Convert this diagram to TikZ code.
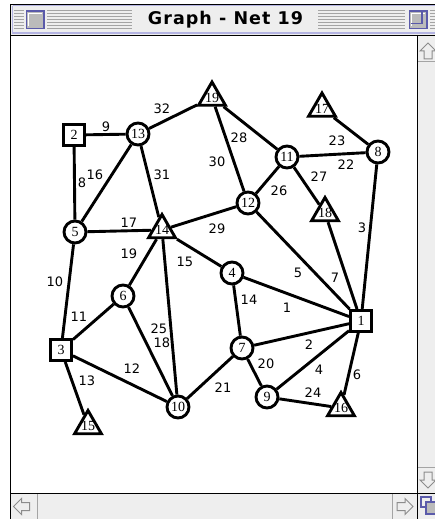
\documentclass[tikz,border=0pt]{standalone}
\usepackage{fontspec}
\usetikzlibrary{shapes.geometric}
\newfontfamily\nodefont{Liberation Serif}
\newfontfamily\labelfont{DejaVu Sans}
\newfontfamily\titlefont[LetterSpace=6]{DejaVu Sans}
\definecolor{barbg}{HTML}{EEEEEE}
\definecolor{stripe}{HTML}{A4A4A4}
\definecolor{lavender}{HTML}{B4B4E2}
\definecolor{boxblue}{HTML}{5A5AAA}
\definecolor{boxfill}{HTML}{BBBBBB}
\definecolor{arrowgray}{HTML}{8C8C8C}

\begin{document}
\begin{tikzpicture}[x=1pt, y=-1pt,
    vtx/.style={circle, draw, fill=white, line width=2.9pt, minimum size=22pt, inner sep=0pt, font=\nodefont\fontsize{14pt}{14pt}\selectfont}, % round vertices
    box/.style={rectangle, draw, fill=white, line width=2.9pt, minimum size=21pt, inner sep=0pt, font=\nodefont\fontsize{14pt}{14pt}\selectfont}, % square vertices
    tri/.style={regular polygon, regular polygon sides=3, draw, fill=white, line width=2.9pt, minimum size=31pt, inner sep=0pt, font=\nodefont\fontsize{14pt}{14pt}\selectfont}, % triangle vertices
    link/.style={line width=2.9pt},
    wlabel/.style={font=\labelfont\fontsize{13pt}{13pt}\selectfont, inner sep=0pt},
    sep/.style={stripe, line width=1pt}
]
\useasboundingbox (0,0) rectangle (435,519);
\fill[white] (0,0) rectangle (435,519);

% window frame: title bar
\fill[barbg] (10,4) rectangle (435,35);
\draw[lavender, line width=1.2pt] (12.5,6) -- (12.5,33) -- (440,33);
\draw[lavender, line width=1pt] (12.5,6) -- (440,6);
\foreach \y in {11,14,17,20,23,26,29} {
    \draw[stripe, line width=1pt] (14,\y) -- (24,\y);
    \draw[stripe, line width=1pt] (47,\y) -- (132,\y);
    \draw[stripe, line width=1pt] (318,\y) -- (405,\y);
    \draw[stripe, line width=1pt] (430,\y) -- (435,\y);
}
% close box and zoom box
\draw[boxblue, fill=boxfill, line width=1.2pt] (26.5,11) rectangle (44,28.5);
\draw[white, line width=0.8pt] (28.5,26.5) -- (28.5,13) -- (42,13);
\draw[boxblue, fill=boxfill, line width=1.2pt] (409.5,11) rectangle (427,28.5);
\draw[white, line width=0.8pt] (411.5,26.5) -- (411.5,13) -- (425,13);
\draw[boxblue, line width=1.2pt] (411,23.5) -- (422,23.5) -- (422,12.5);
\node[font=\titlefont\bfseries\fontsize{17.5pt}{17.5pt}\selectfont, inner sep=0pt] (title) at (225.5,19.5) {Graph - Net 19};

% window frame: scroll bars
\fill[barbg] (418,36) rectangle (435,493);
\fill[barbg] (11,494) rectangle (435,519);
\draw[sep] (418,62) -- (435,62);
\draw[sep] (418,467) -- (435,467);
\draw[sep] (37,494) -- (37,519);
\draw[sep] (392,494) -- (392,519);
\draw[black, line width=1.2pt] (10,4.5) -- (435,4.5);
\draw[black, line width=1.2pt] (10,35.5) -- (435,35.5);
\draw[black, line width=1.2pt] (10.5,4) -- (10.5,519);
\draw[black, line width=1.2pt] (417.5,35) -- (417.5,519);
\draw[black, line width=1.2pt] (10,493.5) -- (435,493.5);
% scroll arrows
\draw[arrowgray, line width=1pt, shift={(428,51)}]
    (0,-8) -- (8,0) -- (4,0) -- (4,8) -- (-4,8) -- (-4,0) -- (-8,0) -- cycle;
\draw[arrowgray, line width=1pt, shift={(428,480)}]
    (0,8) -- (8,0) -- (4,0) -- (4,-8) -- (-4,-8) -- (-4,0) -- (-8,0) -- cycle;
\draw[arrowgray, line width=1pt, shift={(21.5,506.5)}]
    (-8,0) -- (0,-8) -- (0,-4) -- (8,-4) -- (8,4) -- (0,4) -- (0,8) -- cycle;
\draw[arrowgray, line width=1pt, shift={(405,506.5)}]
    (8,0) -- (0,-8) -- (0,-4) -- (-8,-4) -- (-8,4) -- (0,4) -- (0,8) -- cycle;
% grow box
\draw[boxblue, fill=barbg, line width=1.2pt] (421,497) rectangle (431,507);
\draw[boxblue, fill=boxfill, line width=1.2pt] (426,502) rectangle (438,514);

% vertices
\node[box] (n2) at (74,135) {2};
\node[box] (n1) at (361,321) {1};
\node[box] (n3) at (61,350) {3};
\node[vtx] (n13) at (138,134) {13};
\node[vtx] (n11) at (287,157) {11};
\node[vtx] (n8) at (378,152) {8};
\node[vtx] (n12) at (248,203) {12};
\node[vtx] (n5) at (75,232) {5};
\node[vtx] (n4) at (232,273) {4};
\node[vtx] (n6) at (123,296) {6};
\node[vtx] (n7) at (242,348) {7};
\node[vtx] (n10) at (178,407) {10};
\node[vtx] (n9) at (267,397) {9};
\node[tri] (n19) at (212,97.5) {\makebox[0pt]{19}};
\node[tri] (n17) at (322,108.5) {\makebox[0pt]{17}};
\node[tri] (n14) at (162,230) {\makebox[0pt]{14}};
\node[tri] (n18) at (325,213) {\makebox[0pt]{18}};
\node[tri] (n16) at (341,408) {\makebox[0pt]{16}};
\node[tri] (n15) at (88,426) {\makebox[0pt]{15}};

% connectors
\foreach \a/\b in {4/1, 7/1, 8/1, 9/1, 12/1, 16/1, 18/1, 2/5, 2/13, 5/3, 3/6, 3/10, 3/15,
    4/7, 14/4, 5/13, 5/14, 14/10, 14/6, 7/9, 10/7, 11/8, 17/8, 9/16, 6/10, 12/11,
    11/18, 19/11, 14/12, 19/12, 13/14, 13/19}
    \draw[link] (n\a) -- (n\b);

% connector numbers
\foreach \w/\x/\y in {1/287/308, 2/309/345, 3/362/228, 4/319/370, 5/298/273, 6/357/375,
    7/335/278, 8/82/183, 9/106/127, 10/55/282, 11/79/317, 12/132/369, 13/87/381,
    14/249/300, 15/185/262, 16/95/175, 17/129/223, 18/162/343, 19/129/254,
    20/266/364, 21/223/388, 22/346/165, 23/337/141, 24/313/393, 25/159/329,
    26/279/191, 27/319/177, 28/239/138, 29/217/229, 30/217/162, 31/162/175, 32/162/109}
    \node[wlabel] (w\w) at (\x,\y) {\w};

\end{tikzpicture}
\end{document}
